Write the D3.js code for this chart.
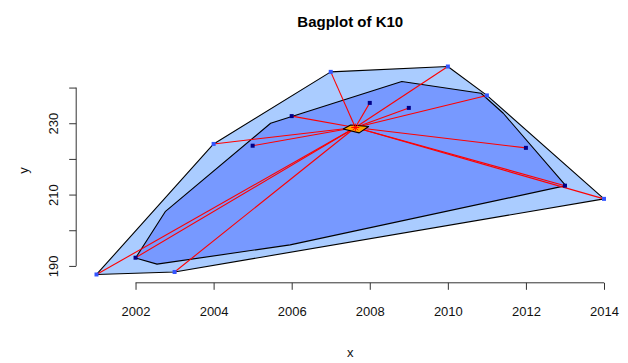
<!DOCTYPE html>
<html>
<head>
<meta charset="utf-8">
<script src="https://cdn.jsdelivr.net/npm/d3@7"></script>
<style>
  html, body { margin: 0; padding: 0; background: #fff; }
  svg { display: block; font-family: "Liberation Sans", Arial, sans-serif; }
</style>
</head>
<body>
<svg id="chart" width="628" height="363"></svg>
<script>
// K10 series by year
const years  = [2001, 2002, 2003, 2004, 2005, 2006, 2007, 2008, 2009, 2010, 2011, 2012, 2013, 2014];
const values = [187.6, 192.3, 188.3, 224.2, 223.7, 232.0, 244.4, 235.7, 234.3, 245.9, 237.8, 223.1, 212.5, 208.8];

// which points lie inside the bag (depth region holding the central half)
const inBag = [false, true, false, false, true, true, false, true, true, false, false, true, true, false];

// bag polygon vertices
const bagX = [2002.0, 2002.76, 2005.46, 2008.82, 2010.85, 2011.42, 2013.02, 2005.96, 2002.55];
const bagY = [192.2, 205.2, 230.0, 241.7, 238.4, 232.8, 212.5, 195.9, 190.5];

// Tukey median and its depth region
const centerX = 2007.63, centerY = 228.8;
const medX = [2007.32, 2007.51, 2007.97, 2007.73];
const medY = [228.4, 229.5, 229.1, 227.3];

// axis ticks
const xTicks = [2002, 2004, 2006, 2008, 2010, 2012, 2014];
const yTicks = [190, 200, 210, 220, 230, 240];
const yTickLabels = ["190", "", "210", "", "230", ""];

const svg = d3.select("#chart");
const plot = { left: 76.2, right: 624.3, top: 58.2, bottom: 282.8 };

// R-style axis limits: data range padded by 4% on each side
function pad(ext) { const d = (ext[1] - ext[0]) * 0.04; return [ext[0] - d, ext[1] + d]; }
const x = d3.scaleLinear().domain(pad(d3.extent(years))).range([plot.left, plot.right]);
const y = d3.scaleLinear().domain(pad(d3.extent(values))).range([plot.bottom, plot.top]);

const pts = years.map((yr, i) => ({ px: x(yr), py: y(values[i]), bag: inBag[i] }));

// loop: convex hull of all points
const hull = d3.polygonHull(pts.map(p => [p.px, p.py]));
svg.append("path")
  .attr("d", "M" + hull.join("L") + "Z")
  .attr("fill", "#aaccff")
  .attr("stroke", "#000")
  .attr("stroke-width", 1.1)
  .attr("stroke-linejoin", "round");

// bag
const bag = bagX.map((v, i) => [x(v), y(bagY[i])]);
svg.append("path")
  .attr("d", "M" + bag.join("L") + "Z")
  .attr("fill", "#7799ff")
  .attr("stroke", "#000")
  .attr("stroke-width", 1.1)
  .attr("stroke-linejoin", "round");

// whiskers from the median to each point
const cx = x(centerX), cy = y(centerY);
svg.append("g").selectAll("line").data(pts).join("line")
  .attr("x1", cx).attr("y1", cy)
  .attr("x2", d => d.px).attr("y2", d => d.py)
  .attr("stroke", "#ff0000")
  .attr("stroke-width", 1.1);

// points
svg.append("g").selectAll("rect").data(pts).join("rect")
  .attr("x", d => d.px - 2).attr("y", d => d.py - 2)
  .attr("width", 4).attr("height", 4)
  .attr("fill", d => d.bag ? "#000088" : "#3355ff");

// median region
const med = medX.map((v, i) => [x(v), y(medY[i])]);
svg.append("path")
  .attr("d", "M" + med.join("L") + "Z")
  .attr("fill", "#ffa500")
  .attr("stroke", "#000")
  .attr("stroke-width", 1.1)
  .attr("stroke-linejoin", "round");

// median marker (asterisk)
const star = svg.append("g").attr("stroke", "#ff0000").attr("stroke-width", 1);
const r = 4;
[[r, 0], [0, r], [r * 0.7, r * 0.7], [r * 0.7, -r * 0.7]].forEach(([dx, dy]) => {
  star.append("line").attr("x1", cx - dx).attr("y1", cy - dy).attr("x2", cx + dx).attr("y2", cy + dy);
});

// x axis
const xAxis = svg.append("g").attr("transform", `translate(0,${plot.bottom})`)
  .call(d3.axisBottom(x).tickValues(xTicks).tickFormat(d3.format("d")).tickSize(7).tickPadding(17));
xAxis.select(".domain").attr("d", `M${x(xTicks[0])},0H${x(xTicks[xTicks.length - 1])}`);
xAxis.selectAll("line, .domain").attr("stroke", "#333");
xAxis.selectAll("text").attr("font-size", 13).attr("fill", "#111")
  .attr("font-family", "'Liberation Sans', Arial, sans-serif");

// y axis
const yAxis = svg.append("g").attr("transform", `translate(${plot.left},0)`)
  .call(d3.axisLeft(y).tickValues(yTicks).tickFormat((d, i) => yTickLabels[i]).tickSize(7).tickPadding(0));
yAxis.select(".domain").attr("d", `M0,${y(yTicks[0])}V${y(yTicks[yTicks.length - 1])}`);
yAxis.selectAll("line, .domain").attr("stroke", "#333");
yAxis.selectAll("text")
  .attr("font-size", 13).attr("fill", "#111")
  .attr("font-family", "'Liberation Sans', Arial, sans-serif")
  .attr("text-anchor", "middle")
  .attr("dy", null)
  .attr("x", null)
  .attr("transform", "translate(-23,0) rotate(-90)")
  .attr("dominant-baseline", "central");

// titles
svg.append("text")
  .attr("x", (plot.left + plot.right) / 2).attr("y", 27)
  .attr("text-anchor", "middle")
  .attr("font-size", 15).attr("font-weight", "bold").attr("fill", "#000")
  .text("Bagplot of K10");

svg.append("text")
  .attr("x", (plot.left + plot.right) / 2).attr("y", 357)
  .attr("text-anchor", "middle")
  .attr("font-size", 13).attr("fill", "#111")
  .text("x");

svg.append("text")
  .attr("transform", `translate(28,${(plot.top + plot.bottom) / 2}) rotate(-90)`)
  .attr("text-anchor", "middle")
  .attr("font-size", 13).attr("fill", "#111")
  .text("y");
</script>
</body>
</html>
